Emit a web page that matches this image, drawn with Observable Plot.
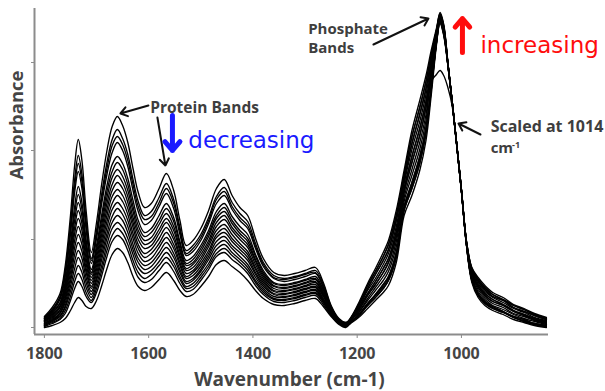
<!DOCTYPE html>
<html><head><meta charset="utf-8">
<script src="https://cdn.jsdelivr.net/npm/d3@7"></script>
<script src="https://cdn.jsdelivr.net/npm/@observablehq/plot@0.6"></script>
<style>body{margin:0;background:#fff}#chart svg{display:block}</style>
</head><body><div id="chart"></div>
<script>
// Wavenumbers (cm-1) sampled along the spectra
const wavenumbers = [1800,1785,1770,1760,1750,1742,1735,1728,1720,1710,1700,1690,1680,1670,1660,1650,1640,1630,1620,1608,1595,1580,1566,1552,1540,1528,1515,1500,1485,1470,1455,1440,1425,1410,1395,1380,1360,1340,1320,1300,1280,1265,1250,1235,1222,
1210,1195,1180,1165,1150,1140,1125,1110,1095,1080,1068,1058,1048,1041,1034,1026,1018,1010,1000,990,980,968,955,940,920,900,880,860,837];

// Absorbance (arbitrary units, scaled at 1014 cm-1), one array per spectrum
const spectrum01 = [11,20,34,62,112,162,188,167,117,75,105,144,177,201,211,202,185,159,135,120,124,139,154,137,107,82,87,99,117,139,148,132,120,112,89,69,55,52,54,57,60,45,22,9,5,
7,16,27,37,47,56,81,126,152,178,207,246,253,257,252,240,222,186,136,82,50,36,28,22,18,13,9,6,3];
const spectrum02 = [10,18,31,57,103,148,172,153,107,69,97,134,165,188,198,189,173,148,126,112,116,130,144,128,100,77,82,93,110,131,140,125,114,106,84,65,52,49,51,54,57,43,21,8,5,
11,24,39,53,67,78,107,148,184,213,239,268,296,306,294,264,227,188,138,84,57,46,38,31,27,20,16,12,8];
const spectrum03 = [9,16,28,51,93,135,156,139,98,64,89,124,153,175,185,177,161,137,116,103,107,121,134,119,93,72,76,87,104,124,132,118,107,99,79,61,49,46,48,51,54,40,20,8,4,
6,13,22,30,39,47,70,117,139,164,194,237,284,310,298,262,226,187,136,81,47,32,24,19,15,10,6,3,1];
const spectrum04 = [8,15,25,46,84,121,141,125,88,58,82,113,142,163,171,164,149,127,107,95,99,112,124,110,86,67,71,82,97,116,124,111,101,93,73,57,45,43,45,48,51,38,19,7,4,
12,27,44,59,75,87,117,157,197,227,252,277,299,314,302,265,227,188,138,85,60,50,42,35,30,23,19,14,10];
const spectrum05 = [7,13,22,41,74,107,125,111,79,53,74,103,130,150,158,151,137,116,97,87,90,103,114,101,79,62,65,76,91,109,116,104,94,86,68,53,42,40,42,45,48,35,18,7,3,
9,19,32,43,55,65,91,135,165,192,220,255,291,308,296,264,227,188,137,83,53,40,32,26,22,16,12,8,5];
const spectrum06 = [6,11,20,36,65,94,109,97,69,47,66,93,118,137,145,139,125,105,88,79,82,94,105,92,72,57,60,70,84,101,108,97,88,80,63,49,39,37,39,42,45,33,17,6,3,
6,14,24,33,43,51,75,121,145,171,200,241,285,305,293,263,226,187,136,81,48,34,26,21,16,11,8,4,2];
const spectrum07 = [5,10,18,33,60,87,101,90,64,44,62,88,112,131,138,132,119,100,83,74,78,89,100,88,69,54,57,67,81,97,103,93,84,76,60,47,37,36,38,41,43,32,16,6,2,
10,22,37,49,63,74,101,144,178,206,233,264,294,312,300,264,227,188,137,84,56,44,36,30,25,19,15,10,7];
const spectrum08 = [4,9,17,30,55,80,93,83,59,41,58,83,106,124,132,126,113,94,79,70,74,84,95,83,65,51,55,64,77,93,99,89,81,73,58,45,36,34,36,39,41,31,15,5,2,
5,11,19,27,35,42,65,112,132,157,187,232,282,307,295,262,226,187,136,80,45,30,22,17,13,8,5,2,0];
const spectrum09 = [3,7,14,25,46,66,77,69,50,36,50,73,94,111,119,113,101,83,69,62,65,75,85,74,58,46,49,58,71,86,91,82,75,67,53,41,33,31,33,36,38,28,14,5,2,
11,25,42,56,71,83,112,153,191,220,246,273,297,315,303,265,227,188,138,85,59,48,40,33,28,22,18,13,9];
const spectrum10 = [2,6,11,20,36,52,62,55,40,30,43,62,83,99,105,100,89,73,60,54,57,66,75,65,51,41,44,53,64,78,83,75,68,60,47,37,29,28,30,33,35,26,13,4,1,
8,17,29,40,51,60,86,130,158,185,213,250,289,309,297,263,226,187,137,82,51,38,30,24,20,14,11,7,4];
const spectrum11 = [1,4,8,14,27,39,46,41,31,25,35,52,71,86,92,88,77,62,50,45,48,57,65,56,44,36,38,47,58,71,75,68,62,54,42,33,26,25,27,30,32,23,12,4,1,
9,21,34,46,59,69,96,139,171,199,226,259,292,311,299,264,227,188,137,83,54,42,34,28,23,17,13,9,6];
const spectrum12 = [0,2,5,9,17,25,30,27,21,19,27,42,59,73,79,75,65,51,41,37,40,48,55,47,37,31,33,41,51,63,67,61,55,47,37,29,23,22,24,27,29,21,11,3,0,
6,13,23,32,41,49,73,119,142,168,197,239,285,313,301,262,226,187,136,81,47,33,25,20,16,10,7,4,2];
const spectrum13 = [9,17,30,54,98,141,164,146,103,67,93,129,159,182,191,183,167,143,121,108,111,125,139,124,97,74,79,90,107,128,136,121,110,102,81,63,50,48,50,53,55,41,20,8,4,
9,21,34,46,59,69,96,139,171,199,226,259,292,309,297,264,227,188,137,83,54,42,34,28,23,17,13,9,6];
const spectrum14 = [7,14,24,43,79,114,133,118,83,55,78,108,136,156,165,158,143,121,102,91,95,107,119,106,83,64,68,79,94,112,120,107,97,89,71,55,44,42,44,47,49,37,18,7,3,
6,14,24,33,43,51,75,121,145,171,200,241,285,306,294,263,226,187,136,81,48,34,26,21,16,11,8,4,2];
const spectrum15 = [6,12,21,38,69,100,117,104,74,50,70,98,124,143,152,145,131,110,93,83,86,98,109,97,76,59,63,73,87,105,112,100,91,83,66,51,41,39,41,44,46,34,17,6,3,
11,25,42,56,71,83,112,153,191,220,246,273,297,313,301,265,227,188,138,85,59,48,40,33,28,22,18,13,9];
const spectrum16 = [4,8,15,28,50,73,85,76,55,39,54,78,100,118,125,119,107,89,74,66,69,80,90,79,62,49,52,61,74,90,95,86,78,70,55,43,34,33,35,38,40,29,15,5,2,
9,19,32,43,55,65,91,135,165,192,220,255,291,310,298,264,227,188,137,83,53,40,32,26,22,16,12,8,5];
const spectrum17 = [3,7,12,22,41,59,70,62,45,33,47,68,89,105,112,107,95,78,65,58,61,71,80,70,55,44,47,56,68,82,87,79,71,63,50,39,31,30,32,35,37,27,14,5,1,
6,13,22,30,39,47,70,117,139,164,194,237,284,304,292,262,226,187,136,81,47,32,24,19,15,10,6,3,1];
const spectrum18 = [2,5,9,17,31,46,54,48,35,27,39,57,77,92,99,94,83,67,55,49,53,62,70,61,48,39,41,50,61,74,79,72,65,57,45,35,28,27,29,32,34,25,13,4,1,
11,24,39,53,67,78,107,148,184,213,239,268,296,312,300,264,227,188,138,84,57,46,38,31,27,20,16,12,8];

const xTicks = [1800, 1600, 1400, 1200, 1000];
const yTicks = [0, 88, 177, 265];
const xDomain = [1819, 833];
const yDomain = [-7, 319];
const xLabel = "Wavenumber (cm-1)";
const yLabel = "Absorbance";

// Annotations (positions in data coordinates: wavenumber, absorbance)
const greyNotes = [
  {text: "Protein Bands", wn: 1597, a: 215, size: 15.5},
  {text: "Phosphate", wn: 1294, a: 294, size: 15},
  {text: "Bands", wn: 1294, a: 275, size: 15},
  {text: "Scaled at 1014", wn: 944, a: 196, size: 16},
  {text: "cm", wn: 944, a: 175, size: 15}
];
const superNotes = [{text: "-1", wn: 903, a: 180}];
const colourNotes = [
  {text: "decreasing", wn: 1524, a: 180, color: "#1a1aff"},
  {text: "increasing", wn: 963.5, a: 275, color: "#ff0d0d"}
];
const blackArrows = [
  {x1: 1600.5, y1: 222, x2: 1654.2, y2: 214},
  {x1: 1583.2, y1: 210, x2: 1567.9, y2: 162},
  {x1: 1168.8, y1: 283, x2: 1063.3, y2: 309},
  {x1: 963.5, y1: 193, x2: 1005.7, y2: 204}
];
const colourArrows = [
  {x1: 1554.4, y1: 212, x2: 1554.4, y2: 177, color: "#1a1aff"},
  {x1: 998.1, y1: 275, x2: 998.1, y2: 309, color: "#ff0d0d"}
];

const spectra = [spectrum01,spectrum02,spectrum03,spectrum04,spectrum05,spectrum06,spectrum07,spectrum08,spectrum09,
  spectrum10,spectrum11,spectrum12,spectrum13,spectrum14,spectrum15,spectrum16,spectrum17,spectrum18];
const rows = [];
spectra.forEach((s, i) => {
  if (s.length !== wavenumbers.length) throw new Error("spectrum " + (i + 1) + " has " + s.length + " values");
  s.forEach((a, j) => rows.push({id: i, wn: wavenumbers[j], a}));
});

const chart = Plot.plot({
  width: 605, height: 391,
  marginTop: 8, marginBottom: 57, marginLeft: 34, marginRight: 57,
  style: {fontFamily: "'Open Sans', sans-serif", background: "#fff"},
  x: {domain: xDomain, label: null},
  y: {domain: yDomain, label: null},
  marks: [
    Plot.ruleY([yDomain[0]], {stroke: "#8c8c8c", strokeWidth: 2}),
    Plot.ruleX([xDomain[0]], {stroke: "#8c8c8c", strokeWidth: 2}),
    Plot.axisX({ticks: xTicks, tickSize: 4, tickPadding: 9, tickFormat: d => String(d), stroke: "#8c8c8c", fill: "#454545", fontSize: 16, fontWeight: "bold", label: null}),
    Plot.axisY({ticks: yTicks, tickSize: 3, tickFormat: () => "", stroke: "#8c8c8c", label: null}),
    Plot.line(rows, {x: "wn", y: "a", z: "id", stroke: "#000", strokeWidth: 1.35, curve: "catmull-rom"}),
    Plot.text([xLabel], {text: d => d, frameAnchor: "bottom", dy: 51, dx: -2, lineAnchor: "bottom", fontSize: 19, fontWeight: "bold", fill: "#454545"}),
    Plot.text([yLabel], {text: d => d, frameAnchor: "left", rotate: -90, dx: -12, dy: 8, lineAnchor: "bottom", fontSize: 18.5, fontWeight: "bold", fill: "#454545"}),
    Plot.text(greyNotes, {x: "wn", y: "a", text: "text", fontSize: d => d.size, textAnchor: "start", lineAnchor: "bottom", fontWeight: "bold", fill: "#3e3e3e"}),
    Plot.text(superNotes, {x: "wn", y: "a", text: "text", fontSize: 9, textAnchor: "start", lineAnchor: "bottom", fontWeight: "bold", fill: "#3e3e3e"}),
    Plot.text(colourNotes, {x: "wn", y: "a", text: "text", fill: "color", fontSize: 23, textAnchor: "start", lineAnchor: "bottom", fontFamily: "'DejaVu Sans', sans-serif"}),
    Plot.arrow(blackArrows, {x1: "x1", y1: "y1", x2: "x2", y2: "y2", stroke: "#111", strokeWidth: 2, headLength: 6, headAngle: 70}),
    Plot.arrow(colourArrows, {x1: "x1", y1: "y1", x2: "x2", y2: "y2", stroke: "color", strokeWidth: 5, headLength: 3.6, headAngle: 80})
  ]
});
document.getElementById("chart").appendChild(chart);
</script>
</body></html>
